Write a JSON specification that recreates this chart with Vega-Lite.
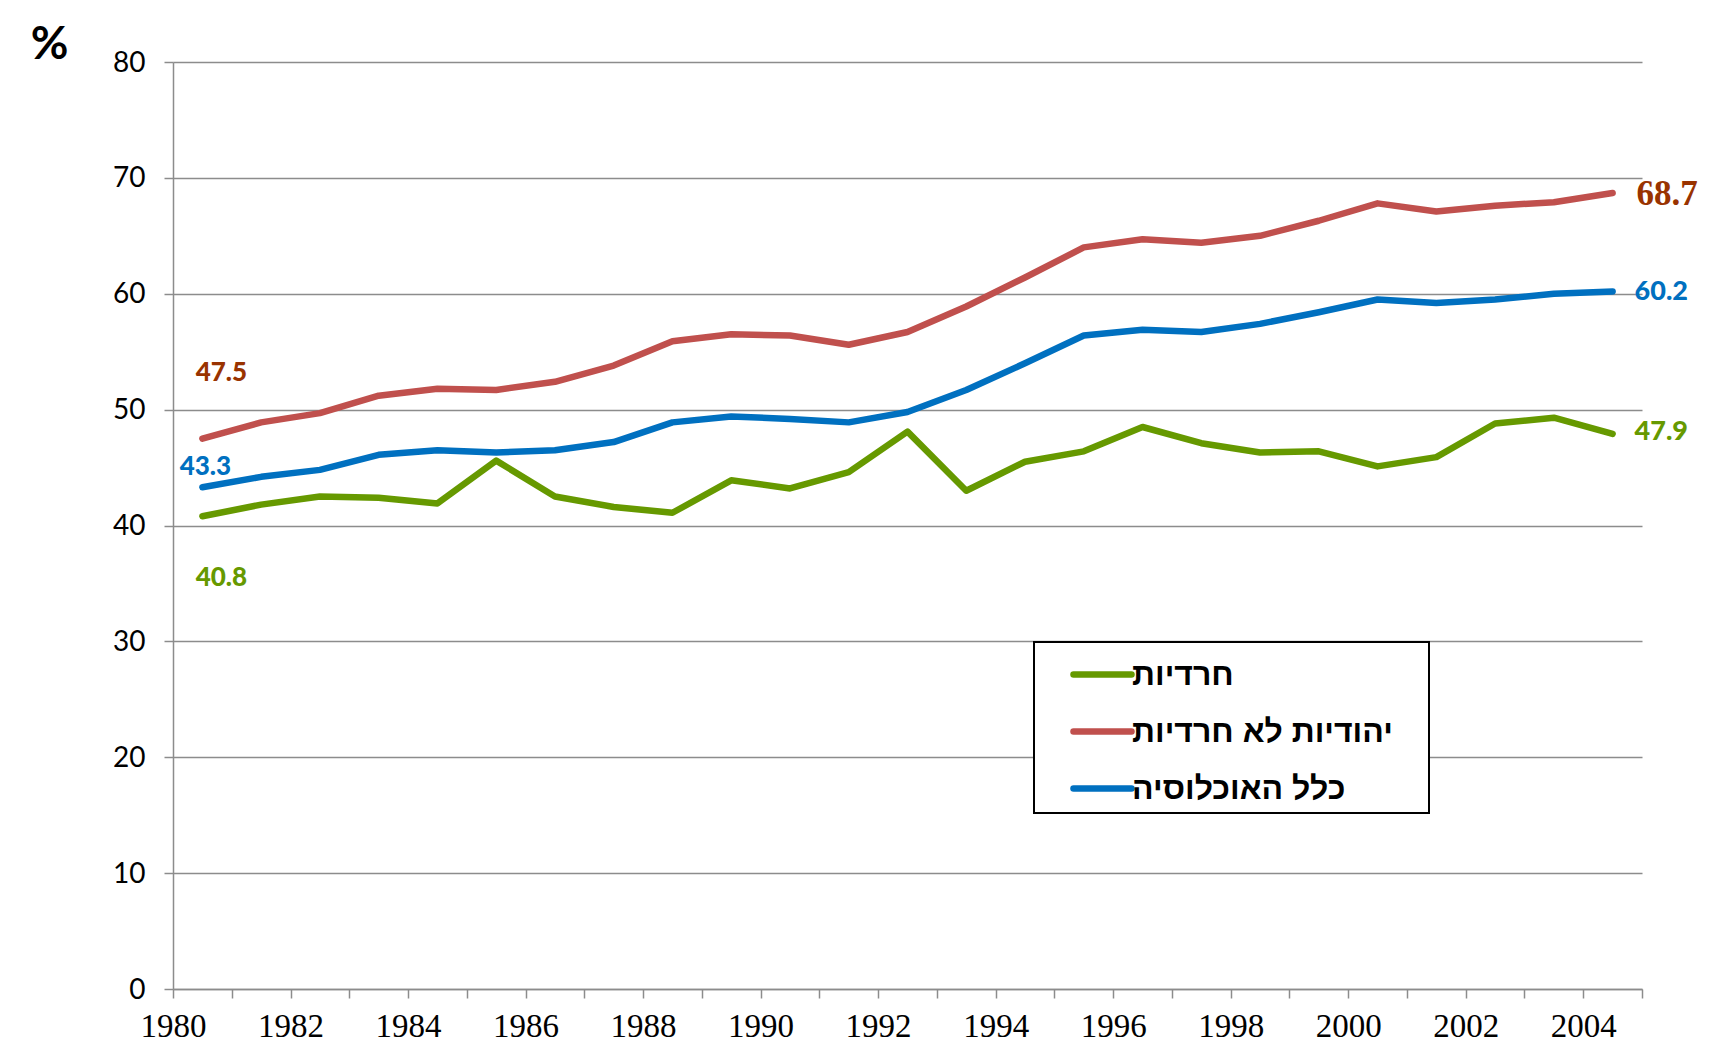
{
  "$schema": "https://vega.github.io/schema/vega-lite/v6.json",
  "width": 1469,
  "height": 927,
  "autosize": {"type": "none"},
  "padding": {"left": 173, "top": 62, "right": 81, "bottom": 71},
  "background": "white",
  "config": {
    "view": {"stroke": null},
    "axis": {"gridColor": "#8c8c8c", "gridWidth": 1.5, "domainColor": "#8c8c8c", "domainWidth": 1.5, "tickColor": "#8c8c8c", "tickWidth": 1.5, "tickSize": 9, "labelColor": "black"}
  },
  "datasets": {
    "series": [
      {"year": 1980.5, "s": "חרדיות", "v": 40.8},
      {"year": 1981.5, "s": "חרדיות", "v": 41.8},
      {"year": 1982.5, "s": "חרדיות", "v": 42.5},
      {"year": 1983.5, "s": "חרדיות", "v": 42.4},
      {"year": 1984.5, "s": "חרדיות", "v": 41.9},
      {"year": 1985.5, "s": "חרדיות", "v": 45.6},
      {"year": 1986.5, "s": "חרדיות", "v": 42.5},
      {"year": 1987.5, "s": "חרדיות", "v": 41.6},
      {"year": 1988.5, "s": "חרדיות", "v": 41.1},
      {"year": 1989.5, "s": "חרדיות", "v": 43.9},
      {"year": 1990.5, "s": "חרדיות", "v": 43.2},
      {"year": 1991.5, "s": "חרדיות", "v": 44.6},
      {"year": 1992.5, "s": "חרדיות", "v": 48.1},
      {"year": 1993.5, "s": "חרדיות", "v": 43.0},
      {"year": 1994.5, "s": "חרדיות", "v": 45.5},
      {"year": 1995.5, "s": "חרדיות", "v": 46.4},
      {"year": 1996.5, "s": "חרדיות", "v": 48.5},
      {"year": 1997.5, "s": "חרדיות", "v": 47.1},
      {"year": 1998.5, "s": "חרדיות", "v": 46.3},
      {"year": 1999.5, "s": "חרדיות", "v": 46.4},
      {"year": 2000.5, "s": "חרדיות", "v": 45.1},
      {"year": 2001.5, "s": "חרדיות", "v": 45.9},
      {"year": 2002.5, "s": "חרדיות", "v": 48.8},
      {"year": 2003.5, "s": "חרדיות", "v": 49.3},
      {"year": 2004.5, "s": "חרדיות", "v": 47.9},
      {"year": 1980.5, "s": "יהודיות לא חרדיות", "v": 47.5},
      {"year": 1981.5, "s": "יהודיות לא חרדיות", "v": 48.9},
      {"year": 1982.5, "s": "יהודיות לא חרדיות", "v": 49.7},
      {"year": 1983.5, "s": "יהודיות לא חרדיות", "v": 51.2},
      {"year": 1984.5, "s": "יהודיות לא חרדיות", "v": 51.8},
      {"year": 1985.5, "s": "יהודיות לא חרדיות", "v": 51.7},
      {"year": 1986.5, "s": "יהודיות לא חרדיות", "v": 52.4},
      {"year": 1987.5, "s": "יהודיות לא חרדיות", "v": 53.8},
      {"year": 1988.5, "s": "יהודיות לא חרדיות", "v": 55.9},
      {"year": 1989.5, "s": "יהודיות לא חרדיות", "v": 56.5},
      {"year": 1990.5, "s": "יהודיות לא חרדיות", "v": 56.4},
      {"year": 1991.5, "s": "יהודיות לא חרדיות", "v": 55.6},
      {"year": 1992.5, "s": "יהודיות לא חרדיות", "v": 56.7},
      {"year": 1993.5, "s": "יהודיות לא חרדיות", "v": 58.9},
      {"year": 1994.5, "s": "יהודיות לא חרדיות", "v": 61.4},
      {"year": 1995.5, "s": "יהודיות לא חרדיות", "v": 64.0},
      {"year": 1996.5, "s": "יהודיות לא חרדיות", "v": 64.7},
      {"year": 1997.5, "s": "יהודיות לא חרדיות", "v": 64.4},
      {"year": 1998.5, "s": "יהודיות לא חרדיות", "v": 65.0},
      {"year": 1999.5, "s": "יהודיות לא חרדיות", "v": 66.3},
      {"year": 2000.5, "s": "יהודיות לא חרדיות", "v": 67.8},
      {"year": 2001.5, "s": "יהודיות לא חרדיות", "v": 67.1},
      {"year": 2002.5, "s": "יהודיות לא חרדיות", "v": 67.6},
      {"year": 2003.5, "s": "יהודיות לא חרדיות", "v": 67.9},
      {"year": 2004.5, "s": "יהודיות לא חרדיות", "v": 68.7},
      {"year": 1980.5, "s": "כלל האוכלוסיה", "v": 43.3},
      {"year": 1981.5, "s": "כלל האוכלוסיה", "v": 44.2},
      {"year": 1982.5, "s": "כלל האוכלוסיה", "v": 44.8},
      {"year": 1983.5, "s": "כלל האוכלוסיה", "v": 46.1},
      {"year": 1984.5, "s": "כלל האוכלוסיה", "v": 46.5},
      {"year": 1985.5, "s": "כלל האוכלוסיה", "v": 46.3},
      {"year": 1986.5, "s": "כלל האוכלוסיה", "v": 46.5},
      {"year": 1987.5, "s": "כלל האוכלוסיה", "v": 47.2},
      {"year": 1988.5, "s": "כלל האוכלוסיה", "v": 48.9},
      {"year": 1989.5, "s": "כלל האוכלוסיה", "v": 49.4},
      {"year": 1990.5, "s": "כלל האוכלוסיה", "v": 49.2},
      {"year": 1991.5, "s": "כלל האוכלוסיה", "v": 48.9},
      {"year": 1992.5, "s": "כלל האוכלוסיה", "v": 49.8},
      {"year": 1993.5, "s": "כלל האוכלוסיה", "v": 51.7},
      {"year": 1994.5, "s": "כלל האוכלוסיה", "v": 54.0},
      {"year": 1995.5, "s": "כלל האוכלוסיה", "v": 56.4},
      {"year": 1996.5, "s": "כלל האוכלוסיה", "v": 56.9},
      {"year": 1997.5, "s": "כלל האוכלוסיה", "v": 56.7},
      {"year": 1998.5, "s": "כלל האוכלוסיה", "v": 57.4},
      {"year": 1999.5, "s": "כלל האוכלוסיה", "v": 58.4},
      {"year": 2000.5, "s": "כלל האוכלוסיה", "v": 59.5},
      {"year": 2001.5, "s": "כלל האוכלוסיה", "v": 59.2},
      {"year": 2002.5, "s": "כלל האוכלוסיה", "v": 59.5},
      {"year": 2003.5, "s": "כלל האוכלוסיה", "v": 60.0},
      {"year": 2004.5, "s": "כלל האוכלוסיה", "v": 60.2}
    ],
    "labels": [
      {"year": 1980.5, "v": 47.5, "label": "47.5"},
      {"year": 1980.5, "v": 43.3, "label": "43.3"},
      {"year": 1980.5, "v": 40.8, "label": "40.8"},
      {"year": 2004.5, "v": 68.7, "label": "68.7"},
      {"year": 2004.5, "v": 60.2, "label": "60.2"},
      {"year": 2004.5, "v": 47.9, "label": "47.9"}
    ]
  },
  "encoding": {
    "x": {"field": "year", "type": "quantitative", "scale": {"domain": [1980, 2005], "nice": false, "zero": false},
      "axis": {"title": null, "grid": false, "values": [1980,1981,1982,1983,1984,1985,1986,1987,1988,1989,1990,1991,1992,1993,1994,1995,1996,1997,1998,1999,2000,2001,2002,2003,2004,2005],
        "labelExpr": "datum.value % 2 == 0 ? format(datum.value, 'd') : ''", "labelFont": "Liberation Serif", "labelFontSize": 33, "labelPadding": 12, "labelFlush": false, "labelOverlap": false}},
    "y": {"field": "v", "type": "quantitative", "scale": {"domain": [0, 80], "nice": false},
      "axis": {"values": [0,10,20,30,40,50,60,70,80], "title": "%", "titleAngle": 0, "titleX": -124, "titleY": -18, "titleAlign": "center", "titleBaseline": "middle", "titleFont": "Lato", "titleFontSize": 46, "titleFontWeight": "bold", "labelFont": "Lato", "labelFontSize": 28, "labelPadding": 19, "labelOffset": 1}}
  },
  "layer": [
    {
      "data": {"name": "series"},
      "mark": {"type": "line", "strokeWidth": 6.5, "strokeCap": "round", "strokeJoin": "round"},
      "encoding": {
        "color": {"field": "s", "type": "nominal",
          "scale": {"domain": ["חרדיות", "יהודיות לא חרדיות", "כלל האוכלוסיה"], "range": ["#669900", "#c0504d", "#0070c0"]},
          "legend": {"title": ["\u00a0", "\u00a0"], "titleOrient": "right", "titlePadding": 36, "titleFontSize": 10, "titleLineHeight": 170, "orient": "none", "legendX": 861, "legendY": 580, "strokeColor": "black", "fillColor": "white", "padding": 0,
            "symbolType": "stroke", "symbolSize": 3364, "symbolStrokeWidth": 6.5, "symbolOffset": 36, "labelOffset": -3,
            "labelFont": "Liberation Sans", "labelFontSize": 32, "labelFontWeight": "bold", "labelColor": "black", "rowPadding": 8, "labelLimit": 500,
            "encode": {"legend": {"update": {"strokeWidth": {"value": 2}}}, "symbols": {"update": {"strokeCap": {"value": "round"}}}}}
        }
      }
    },
    {"data": {"name": "labels"}, "transform": [{"filter": "datum.label == '47.5'"}],
      "mark": {"type": "text", "align": "center", "baseline": "middle", "dx": 19, "dy": -66, "font": "Lato", "fontSize": 26, "fontWeight": 900, "color": "#993300"},
      "encoding": {"text": {"field": "label"}}},
    {"data": {"name": "labels"}, "transform": [{"filter": "datum.label == '43.3'"}],
      "mark": {"type": "text", "align": "center", "baseline": "middle", "dx": 3, "dy": -20, "font": "Lato", "fontSize": 26, "fontWeight": 900, "color": "#0070c0"},
      "encoding": {"text": {"field": "label"}}},
    {"data": {"name": "labels"}, "transform": [{"filter": "datum.label == '40.8'"}],
      "mark": {"type": "text", "align": "center", "baseline": "middle", "dx": 19, "dy": 62, "font": "Lato", "fontSize": 26, "fontWeight": 900, "color": "#669900"},
      "encoding": {"text": {"field": "label"}}},
    {"data": {"name": "labels"}, "transform": [{"filter": "datum.label == '68.7'"}],
      "mark": {"type": "text", "align": "left", "baseline": "middle", "dx": 24, "dy": 1, "font": "Liberation Serif", "fontSize": 35, "fontWeight": "bold", "color": "#993300"},
      "encoding": {"text": {"field": "label"}}},
    {"data": {"name": "labels"}, "transform": [{"filter": "datum.label == '60.2'"}],
      "mark": {"type": "text", "align": "left", "baseline": "middle", "dx": 22, "dy": 1, "font": "Lato", "fontSize": 27, "fontWeight": 900, "color": "#0070c0"},
      "encoding": {"text": {"field": "label"}}},
    {"data": {"name": "labels"}, "transform": [{"filter": "datum.label == '47.9'"}],
      "mark": {"type": "text", "align": "left", "baseline": "middle", "dx": 22, "dy": -2, "font": "Lato", "fontSize": 27, "fontWeight": 900, "color": "#669900"},
      "encoding": {"text": {"field": "label"}}}
  ]
}
